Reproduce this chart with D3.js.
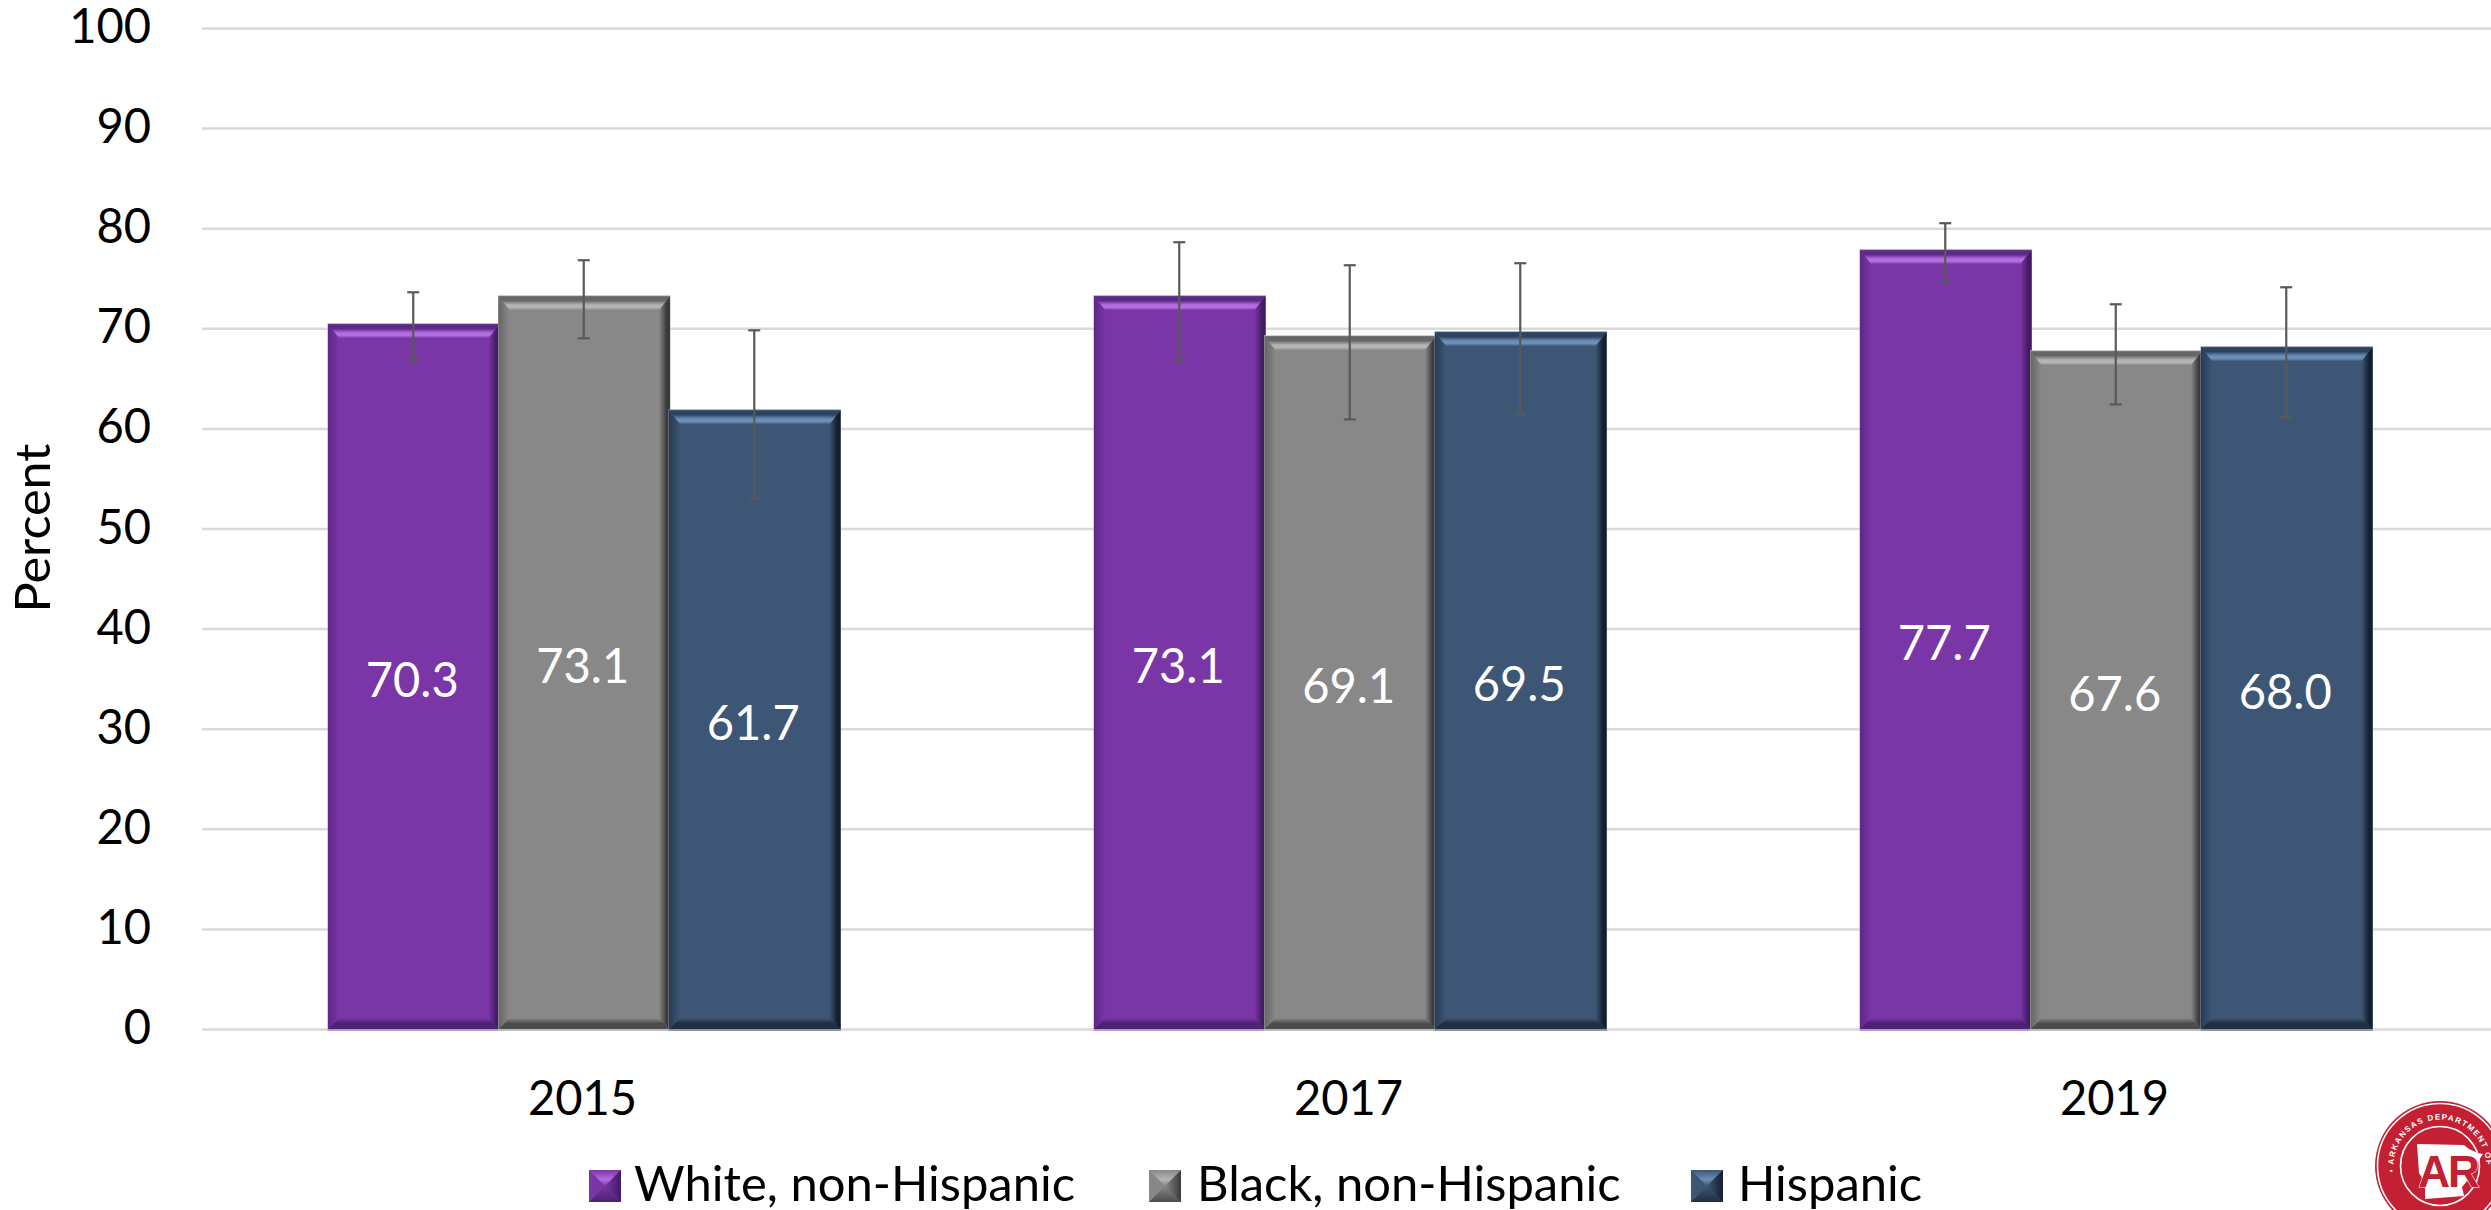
<!DOCTYPE html>
<html><head><meta charset="utf-8">
<script src="https://cdn.jsdelivr.net/npm/d3@7/dist/d3.min.js"></script>
<style>html,body{margin:0;padding:0;background:#fff;overflow:hidden}svg{display:block}text{font-family:Lato,"Open Sans",sans-serif}</style>
</head><body><svg id="c" width="2491" height="1210"></svg>
<script>
const years = ["2015","2017","2019"];
const seriesNames = ["White, non-Hispanic","Black, non-Hispanic","Hispanic"];
const white = [70.3,73.1,77.7];
const black = [73.1,69.1,67.6];
const hispanic = [61.7,69.5,68.0];
const whiteLow = [66.7,66.7,74.6], whiteHigh = [73.6,78.6,80.5];
const blackLow = [69.0,60.9,62.4], blackHigh = [76.8,76.3,72.4];
const hispanicLow = [53.0,61.4,61.1], hispanicHigh = [69.8,76.5,74.1];
const yTicks = [0,10,20,30,40,50,60,70,80,90,100];
const values = [white,black,hispanic], lows=[whiteLow,blackLow,hispanicLow], highs=[whiteHigh,blackHigh,hispanicHigh];
const palette = [
 {k:"p",main:"#7a35a6",top:["#5a2a86","#b56ce2","#7a35a6"],left:"#5d2788",right:"#421b64",bottom:"#4c2272",edge:"#b79acb"},
 {k:"g",main:"#888888",top:["#666666","#b4b4b4","#888888"],left:"#666666",right:"#3a3a3a",bottom:"#4c4c4c",edge:"#bdbdbd"},
 {k:"b",main:"#3d5675",top:["#2b4261","#6b8fb6","#3d5675"],left:"#283b53",right:"#131f2d",bottom:"#1f2e42",edge:"#8a96a6"}
];
const svg = d3.select("#c");
const y = d3.scaleLinear().domain([0,100]).range([1029,28]);
const x0 = d3.scaleBand().domain(years).range([200.5,2498.5]);
const x1 = d3.scaleBand().domain(seriesNames).range([127.5,639]);

const defs = svg.append("defs");
function grad(id,dir,stops){
  const v={t:[0,0,0,1],b:[0,1,0,0],l:[0,0,1,0],r:[1,0,0,0]}[dir];
  const g=defs.append("linearGradient").attr("id",id).attr("x1",v[0]).attr("y1",v[1]).attr("x2",v[2]).attr("y2",v[3]);
  stops.forEach(s=>g.append("stop").attr("offset",s[0]).attr("stop-color",s[1]));
}
palette.forEach(p=>{
  grad(p.k+"t","t",[[0,p.top[0]],[.3,p.top[0]],[.62,p.top[1]],[.8,p.top[1]],[1,p.top[2]]]);
  grad(p.k+"l","l",[[0,p.left],[1,p.main]]);
  grad(p.k+"r","r",[[0,p.right],[.3,p.right],[1,p.main]]);
  grad(p.k+"b","b",[[0,p.bottom],[.5,p.bottom],[1,p.main]]);
  grad(p.k+"st","t",[[0,p.main],[.6,p.top[1]],[1,p.main]]);
  grad(p.k+"sb","b",[[0,p.bottom],[1,p.main]]);
  grad(p.k+"sr","r",[[0,p.right],[1,p.main]]);
});
function bevel(g,a,b,c,d,p,s,w){
  const f=(pts,fill)=>g.append("path").attr("d",d3.line()(pts)+"Z").attr("fill",fill);
  g.append("rect").attr("x",a).attr("y",b).attr("width",c-a).attr("height",d-b).attr("fill",p.main);
  const [ia,ib,ic,id]=[a+s,b+w,c-s,d-s];
  f([[a,b],[c,b],[ic,ib],[ia,ib]],`url(#${p.k}t)`);
  f([[a,d],[c,d],[ic,id],[ia,id]],`url(#${p.k}b)`);
  f([[a,b],[ia,ib],[ia,id],[a,d]],`url(#${p.k}l)`);
  f([[c,b],[ic,ib],[ic,id],[c,d]],`url(#${p.k}r)`);
}
function label(parent,tx,ty,str,size,fill,sx,anchor){
  return parent.append("text").attr("transform",`translate(${tx},${ty}) scale(${sx},1)`)
    .attr("text-anchor",anchor||"middle").attr("font-size",size).attr("fill",fill).text(str);
}
const FS=48;

const ya = svg.append("g").attr("transform","translate(202,0)")
  .call(d3.axisLeft(y).tickValues(yTicks).tickSize(-2300).tickPadding(0));
ya.select(".domain").remove();
ya.selectAll(".tick line").attr("stroke","#d9d9d9").attr("stroke-width",2.5);
ya.selectAll(".tick text").remove();
yTicks.forEach(t=>label(svg,151,y(t)+15,String(t),FS,"#000",.98,"end"));

const xa = svg.append("g").attr("transform","translate(0,1029)")
  .call(d3.axisBottom(x0).tickSize(0));
xa.select(".domain").remove();
xa.selectAll(".tick text").remove();
years.forEach(yr=>label(svg,x0(yr)+x0.bandwidth()/2-1,1115,yr,FS,"#000",.98));

seriesNames.forEach((name,si)=>{
  const p=palette[si];
  years.forEach((yr,i)=>{
    const g=svg.append("g");
    const a=x0(yr)+x1(name), c=a+x1.bandwidth()+1;
    const b=y(values[si][i])-1, d=y(0);
    g.append("rect").attr("x",a-.5).attr("y",b-1).attr("width",c-a+1).attr("height",d-b+3).attr("fill",p.edge);
    bevel(g,a,b,c,d,p,11,14);
  });
});
seriesNames.forEach((name,si)=>{
  years.forEach((yr,i)=>{
    const cx=x0(yr)+x1(name)+x1.bandwidth()/2;
    const e=svg.append("g").attr("stroke","#595959").attr("stroke-width",2.2);
    e.append("line").attr("x1",cx).attr("x2",cx).attr("y1",y(highs[si][i])).attr("y2",y(lows[si][i]));
    [highs,lows].forEach(arr=>e.append("line").attr("x1",cx-6).attr("x2",cx+6).attr("y1",y(arr[si][i])).attr("y2",y(arr[si][i])));
    label(svg,cx-1,(y(values[si][i])+y(0))/2+20,values[si][i].toFixed(1),FS,"#fff",.98);
  });
});

svg.append("text").attr("transform","translate(50,528) rotate(-90) scale(1.05,1)")
  .attr("text-anchor","middle").attr("font-size",FS).attr("fill","#000").text("Percent");

const legendX=[589,1149,1691], legendT=[634,1197,1738];
seriesNames.forEach((n,i)=>{
  const g=svg.append("g");
  const a=legendX[i], b=1170, c=a+32, d=1202;
  const f=(pts,fill)=>g.append("path").attr("d",d3.line()(pts)+"Z").attr("fill",fill);
  const p=palette[i], mx=a+16, my=b+16;
  g.append("rect").attr("x",a).attr("y",b).attr("width",32).attr("height",32).attr("fill",p.main);
  f([[a,b],[c,b],[c-5,b+5],[mx,my],[a+5,b+5]],`url(#${p.k}st)`);
  f([[a,d],[c,d],[mx,my]],`url(#${p.k}sb)`);
  f([[c,b],[c,d],[mx,my]],`url(#${p.k}sr)`);
  label(svg,legendT[i],1201,n,FS,"#000",1.02,"start");
});

const logo=svg.append("g").attr("transform","translate(2440,1166)");
const red="#c32033";
logo.append("circle").attr("r",65).attr("fill",red);
logo.append("circle").attr("r",62.5).attr("fill","none").attr("stroke","#fff").attr("stroke-width",1.6);
logo.append("circle").attr("r",39.5).attr("fill","none").attr("stroke","#fff").attr("stroke-width",1.6);
defs.append("path").attr("id","arc").attr("d","M-46,6A46.4,46.4 0 1 1 46,6");
logo.append("text").attr("font-size",8).attr("font-weight",700).attr("fill","#fff").attr("letter-spacing",1.3)
  .style("font-family","'Liberation Sans',sans-serif")
  .append("textPath").attr("href","#arc").text("• ARKANSAS DEPARTMENT OF HEALTH");
logo.append("path").attr("fill","#fff")
  .attr("d",d3.line()([[-23,-22],[24,-21],[29,-17],[38,-13],[43,-12],[37,-3],[33,7],[28,14],[22,21],[24,30],[-15,33],[-15,17],[-21,7]])+"Z");
logo.append("text").attr("x",8).attr("y",21).attr("text-anchor","middle").attr("font-size",44).attr("font-weight",700)
  .attr("fill",red).attr("stroke","#fff").attr("stroke-width",1).attr("paint-order","stroke").attr("letter-spacing",-2)
  .style("font-family","'Liberation Sans',sans-serif").text("AR");
</script></body></html>
